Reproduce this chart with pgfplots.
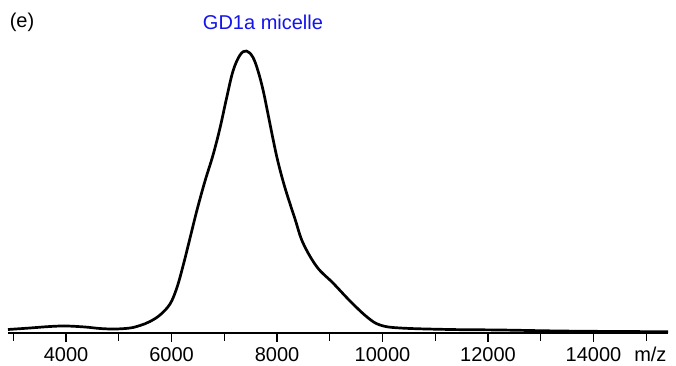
\documentclass[border=0pt]{standalone}
\usepackage{pgfplots}
\pgfplotsset{compat=1.18}
\usepackage{fontspec}
\setmainfont{Liberation Sans}
\definecolor{titleblue}{RGB}{20,20,235}
\begin{document}
\begin{tikzpicture}
\begin{axis}[
  scale only axis,
  width=660pt, height=300pt,
  xmin=2900, xmax=15412,
  ymin=0, ymax=300,
  axis x line*=bottom,
  axis y line=none,
  axis line style={line width=1.3pt},
  xtick={4000,6000,8000,10000,12000,14000},
  minor xtick={3000,5000,7000,9000,11000,13000,15000},
  tick align=outside,
  major tick length=9pt,
  minor tick length=8pt,
  tick style={line width=1.2pt, black},
  scaled x ticks=false,
  xticklabel style={/pgf/number format/fixed, /pgf/number format/precision=0,
    /pgf/number format/1000 sep={}, font=\fontsize{20}{22}\selectfont, yshift=-2pt},
  /pgf/number format/assume math mode=true,
  clip=false,
]
\addplot[black, line width=2.7pt, smooth, tension=0.6] coordinates {
(2900,3.5) (3318,5) (3697,6.5) (4000,7) (4360,6) (4645,4.5) (4929,4)
(5213,5) (5403,7.5) (5592,11.5) (5782,18) (5971,29) (6100,45) (6218,67)
(6351,95) (6483,123) (6635,152) (6787,178) (6919,205) (7040,234)
(7166,262) (7299,278) (7420,282) (7540,276) (7640,262) (7735,243)
(7829,219) (7924,194) (8019,171) (8152,145) (8341,114) (8493,90)
(8758,66) (9061,50) (9384,32) (9706,16) (9952,8)
(10332,5) (11279,3.5) (12227,3) (13365,2) (14502,1.5) (15412,1.3)
};
\end{axis}
\node[font=\fontsize{20}{22}\selectfont, anchor=base east] at (662pt,-29pt) {m/z};
\node[font=\fontsize{20}{22}\selectfont, text=titleblue] at (255pt,311pt) {GD1a micelle};
\node[font=\fontsize{20}{22}\selectfont] at (14pt,311pt) {(e)};
\useasboundingbox (-8pt,-31pt) rectangle (668pt,333pt);
\end{tikzpicture}
\end{document}
